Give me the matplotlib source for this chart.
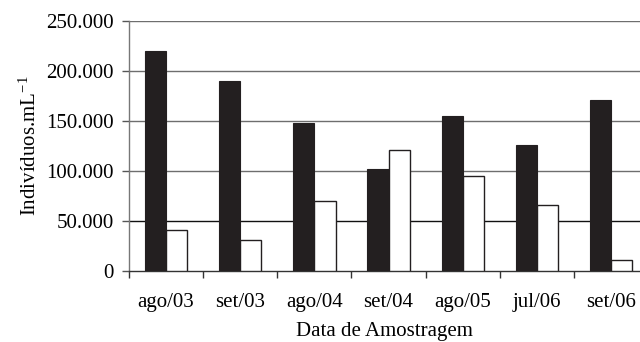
import numpy as np
import matplotlib.pyplot as plt

# dados
categorias = ["ago/03", "set/03", "ago/04", "set/04", "ago/05", "jul/06", "set/06"]
serie_preta = [220000, 190000, 148000, 102000, 155000, 126000, 171000]
serie_branca = [41000, 31000, 70300, 121000, 95000, 65700, 10700]
yticks = [0, 50000, 100000, 150000, 200000, 250000]
ytick_labels = ["0", "50.000", "100.000", "150.000", "200.000", "250.000"]

plt.rcParams['font.family'] = ['Liberation Serif', 'DejaVu Serif']
plt.rcParams['mathtext.fontset'] = 'stix'

fig = plt.figure(figsize=(6.4, 3.42), dpi=100)
# eixo ocupa de x=129px até a borda direita (cortado), y de 21 a 271
ax = fig.add_axes([129 / 640, (342 - 271) / 342, 1 - 129 / 640, 250 / 342])

x = np.arange(len(categorias))
w = 0.285
ax.bar(x - w / 2, serie_preta, w, color='#231f20', edgecolor='#231f20', linewidth=0.8, zorder=3)
ax.bar(x + w / 2, serie_branca, w, color='white', edgecolor='#231f20', linewidth=1.0, zorder=3)

# linhas de grade
for v in yticks[1:]:
    cor = '#111111' if v == 50000 else '#6e6e6e'
    ax.axhline(v, color=cor, linewidth=1.0, zorder=1)

ax.set_ylim(0, 250000)
ax.set_xlim(-0.5, 6.5 - 8 / 73.3)

ax.set_yticks(yticks)
ax.set_yticklabels(ytick_labels)
ax.set_xticks(np.arange(-0.5, 6.5, 1.0))
ax.set_xticklabels([])
ax.set_xticks(x, minor=True)
ax.set_xticklabels(categorias, minor=True)

ax.tick_params(axis='y', length=5, width=1.0, color='#555555', pad=6, labelsize=15)
ax.tick_params(axis='x', which='major', length=5, width=1.0, color='#333333')
ax.tick_params(axis='x', which='minor', length=0, pad=16, labelsize=15)

for s in ['top', 'right']:
    ax.spines[s].set_visible(False)
ax.spines['left'].set_color('#777777')
ax.spines['bottom'].set_color('#333333')
ax.spines['left'].set_linewidth(1.0)
ax.spines['bottom'].set_linewidth(1.0)

ax.set_ylabel(r'Indivíduos.mL$^{\mathregular{-1}}$', fontsize=15, labelpad=4)
ax.set_xlabel('Data de Amostragem', fontsize=15, labelpad=7)

fig.savefig('out.png', dpi=100)
